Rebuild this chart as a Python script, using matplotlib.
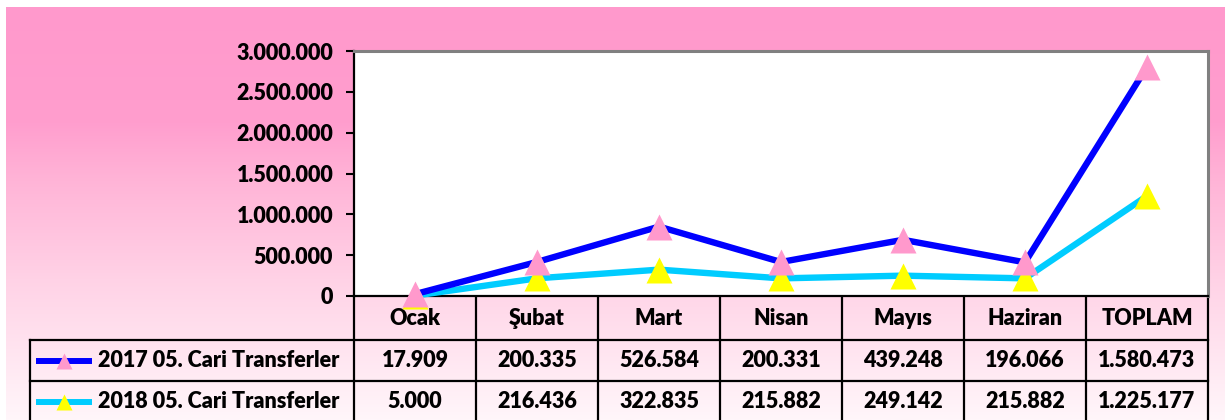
import numpy as np
import matplotlib
matplotlib.use("Agg")
import matplotlib.pyplot as plt
from matplotlib.colors import LinearSegmentedColormap
from matplotlib.ticker import FuncFormatter

# data
months = ["Ocak", "Şubat", "Mart", "Nisan", "Mayıs", "Haziran", "TOPLAM"]
names = ["2017 05. Cari Transferler", "2018 05. Cari Transferler"]
vals_2017 = [17909, 200335, 526584, 200331, 439248, 196066, 1580473]
vals_2018 = [5000, 216436, 322835, 215882, 249142, 215882, 1225177]
y_ticks = [0, 500000, 1000000, 1500000, 2000000, 2500000, 3000000]

plt.rcParams['font.family'] = ['Lato', 'DejaVu Sans']
WT = 'heavy'
plt.rcParams['font.weight'] = WT
FS = 15.5


def tr_num(v, pos=None):
    return f"{v:,.0f}".replace(",", ".")


W, H = 1225, 420
fig = plt.figure(figsize=(W / 100, H / 100), dpi=100)
fig.patch.set_facecolor("white")


def box(x0, y0, x1, y1):
    # pixel box (top-left origin) -> figure rect
    return [x0 / W, 1 - y1 / H, (x1 - x0) / W, (y1 - y0) / H]


#%% background gradient
bg = fig.add_axes(box(6, 7, W, H), zorder=0)
pink = LinearSegmentedColormap.from_list(
    "pinkfade",
    [(0.0, "#FF99CC"), (0.28, "#FF9ECE"), (0.42, "#FFB4D7"),
     (0.66, "#FFD2E6"), (1.0, "#FFF6FA")])
bg.imshow(np.linspace(0, 1, 256).reshape(-1, 1), aspect="auto", cmap=pink,
          extent=[0, 1, 1, 0])
bg.axis("off")

#%% line chart (stacked lines)
ax = fig.add_axes(box(354, 51, 1208, 296), zorder=2)
ax.set_facecolor("white")
x = np.arange(len(months))
s2018 = np.array(vals_2018)
s2017 = s2018 + np.array(vals_2017)

ax.plot(x, s2018, color="#00CCFF", lw=4.6, marker="^", ms=19,
        mfc="#FFFF00", mec="none", clip_on=False, zorder=3)
ax.plot(x, s2017, color="#0000FF", lw=4.6, marker="^", ms=19,
        mfc="#FF99CC", mec="none", clip_on=False, zorder=4)

ax.set_xlim(-0.5, len(months) - 0.5)
ax.set_ylim(0, 3000000)
ax.set_xticks([])
ax.set_yticks(y_ticks)
ax.yaxis.set_major_formatter(FuncFormatter(tr_num))
ax.tick_params(axis="y", direction="out", length=6, width=1.5,
               labelsize=FS, pad=9)
for lab in ax.get_yticklabels():
    lab.set_fontweight(WT)
for s in ["left", "bottom"]:
    ax.spines[s].set_color("black")
    ax.spines[s].set_linewidth(1.6)
for s in ["top", "right"]:
    ax.spines[s].set_color("#808080")
    ax.spines[s].set_linewidth(2.2)

#%% data table
unit = 854 / len(months)
left = -0.5 - (354 - 30) / unit
rows = [296, 340, 381, 422]
tab = fig.add_axes(box(30, 296, 1208, 422), zorder=1)
tab.set_xlim(left, len(months) - 0.5)
tab.set_ylim(422, 296)
tab.axis("off")


def u(px):
    return -0.5 + (px - 354) / unit


kw = dict(color="black", lw=1.6, clip_on=False)
for i in range(len(months) + 1):
    tab.plot([i - 0.5, i - 0.5], [296, 422], **kw)
tab.plot([left, left], [340, 422], **kw)
tab.plot([left, len(months) - 0.5], [340, 340], **kw)
tab.plot([left, len(months) - 0.5], [381, 381], **kw)

for i, m in enumerate(months):
    tab.text(i, (rows[0] + rows[1]) / 2, m, ha="center", va="center",
             fontsize=FS, fontweight=WT)

styles = [("#0000FF", "#FF99CC"), ("#00CCFF", "#FFFF00")]
for r, (name, vals, (lc, mc)) in enumerate(zip(names, [vals_2017, vals_2018], styles)):
    yc = (rows[r + 1] + rows[r + 2]) / 2
    tab.plot([u(36), u(92)], [yc, yc], color=lc, lw=4.3,
             solid_capstyle="butt", clip_on=False)
    tab.plot([u(64)], [yc], marker="^", ms=12, mfc=mc, mec="none",
             clip_on=False)
    tab.text(u(98), yc, name, ha="left", va="center", fontsize=FS,
             fontweight=WT)
    for i, v in enumerate(vals):
        tab.text(i, yc, tr_num(v), ha="center", va="center", fontsize=FS,
                 fontweight=WT)

fig.savefig("out.png", dpi=100)
